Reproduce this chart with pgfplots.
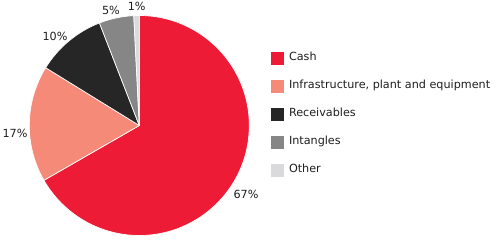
\documentclass[border=0pt]{standalone}
\usepackage{pgfplots}
\usepackage{pgfplotstable}
\pgfplotsset{compat=1.18}
\usepackage{fontspec}
\setmainfont{DejaVu Sans}
\definecolor{c0}{RGB}{237,27,54}
\definecolor{c1}{RGB}{245,138,120}
\definecolor{c2}{RGB}{38,38,38}
\definecolor{c3}{RGB}{134,134,134}
\definecolor{c4}{RGB}{218,218,220}
\definecolor{txt}{RGB}{30,30,30}
\pgfplotstableread{
name value
Cash 66.7
Infrastructure 17.1
Receivables 10.3
Intangibles 5.1
Other 0.8
}\piedata
\begin{document}
\fontsize{11.2bp}{13bp}\selectfont
\def\cumA{90}%
\foreach \i in {0,...,4}{%
  \pgfplotstablegetelem{\i}{value}\of\piedata
  \pgfmathsetmacro\endang{\cumA-3.6*\pgfplotsretval}%
  \expandafter\xdef\csname s\i\endcsname{\cumA}%
  \expandafter\xdef\csname e\i\endcsname{\endang}%
  \xdef\cumA{\endang}%
}%
\begin{tikzpicture}
\begin{axis}[
  scale only axis, width=500bp, height=244bp,
  xmin=0, xmax=500, ymin=0, ymax=244,
  hide axis, clip=false,
  legend image code/.code={\fill[#1, draw=none] (0bp,-6.5bp) rectangle (13bp,6.5bp);},
  legend style={at={(axis cs:271,192)}, anchor=north west, draw=none, fill=none,
    inner sep=0pt, outer sep=0pt, row sep=14.9bp, column sep=0bp,
    nodes={inner sep=0pt, text height=9bp, text depth=4bp, text=txt, font=\fontsize{11.2bp}{13bp}\selectfont},
    cells={anchor=west}},
  legend cell align=left,
]
\path (axis cs:0,0) -- (axis cs:500,244);
\pgfplotsinvokeforeach{0,...,4}{
  \fill[fill=c#1, draw=white, line width=0.7bp, line join=round]
    (axis cs:139.3,118.5) -- ([shift={(\csname s#1\endcsname:110bp)}]axis cs:139.3,118.5)
    arc[start angle=\csname s#1\endcsname, end angle=\csname e#1\endcsname, radius=110bp] -- cycle;
}
\node[text=txt, inner sep=0pt] at (axis cs:246,50) {67\%};
\node[text=txt, inner sep=0pt] at (axis cs:15,111) {17\%};
\node[text=txt, inner sep=0pt] at (axis cs:55,208) {10\%};
\node[text=txt, inner sep=0pt] at (axis cs:111,234) {5\%};
\node[text=txt, inner sep=0pt] at (axis cs:136.7,237.3) {1\%};
\addlegendimage{fill=c0}
\addlegendentry{\hspace{5bp}Cash}
\addlegendimage{fill=c1}
\addlegendentry{\hspace{5bp}Infrastructure, plant and equipment}
\addlegendimage{fill=c2}
\addlegendentry{\hspace{5bp}Receivables}
\addlegendimage{fill=c3}
\addlegendentry{\hspace{5bp}Intangles}
\addlegendimage{fill=c4}
\addlegendentry{\hspace{5bp}Other}
\end{axis}
\end{tikzpicture}
\end{document}
